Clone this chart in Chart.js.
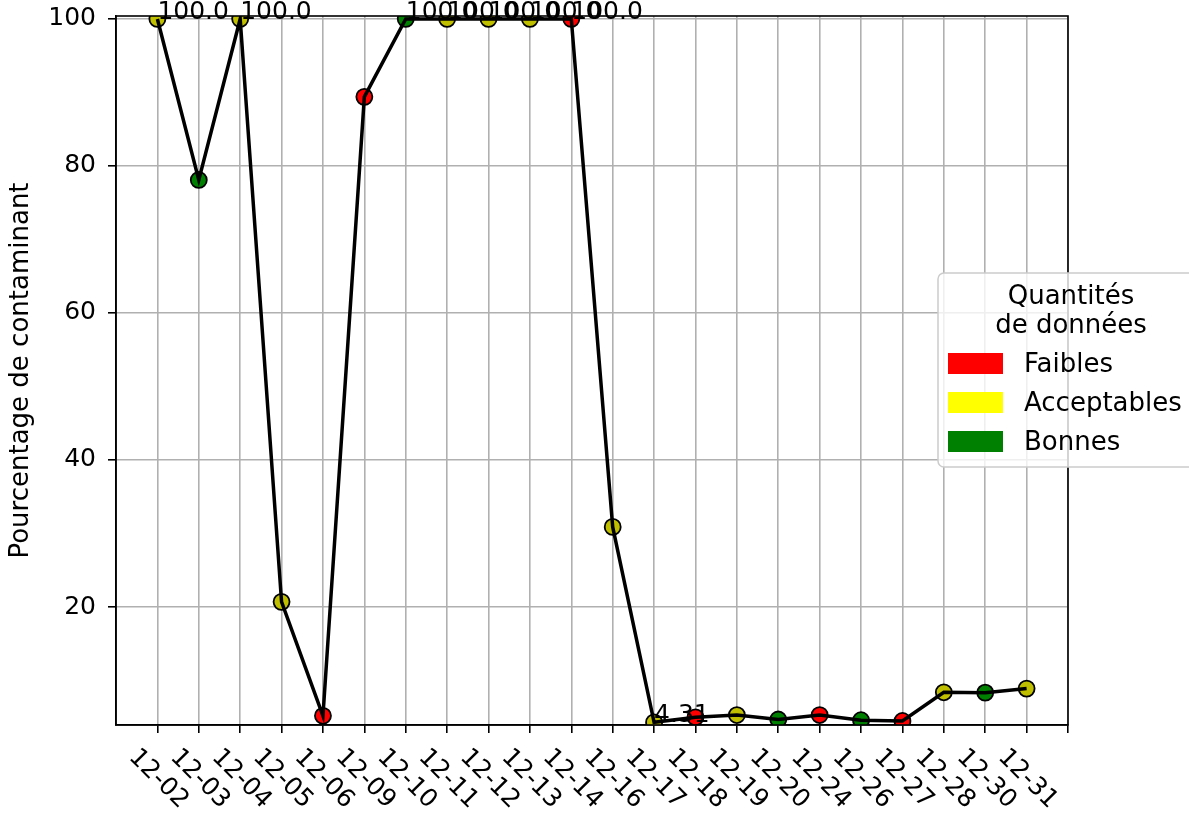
<!DOCTYPE html>
<html>
<head>
<meta charset="utf-8">
<script src="https://cdn.jsdelivr.net/npm/chart.js@4"></script>
<style>
html,body{margin:0;padding:0;background:#fff;}
#wrap{width:1189px;height:816px;}
</style>
</head>
<body>
<div id="wrap"><canvas id="chart" width="1189" height="816"></canvas></div>
<script>
// data
const dates = ["12-02","12-03","12-04","12-05","12-06","12-09","12-10","12-11","12-12","12-13","12-14",
"12-16","12-17","12-18","12-19","12-20","12-24","12-26","12-27","12-28","12-30","12-31"];
const percentages = [100,78.1,100,20.7,5.2,89.4,100,100,100,100,100,
30.9,4.31,5.0,5.3,4.7,5.3,4.6,4.5,8.4,8.35,8.9];
const quality = ["A","B","A","A","F","F","B","A","A","A","F",
"A","A","F","A","B","F","B","F","A","B","A"];
const yTicks = [20,40,60,80,100];

const legendNames = ["Faibles","Acceptables","Bonnes"];
const legendColors = ["#ff0000","#ffff00","#008000"];
const markerColors = {F:"#ff0000",A:"#bfbf00",B:"#008000"};

const FONT = "DejaVu Sans";

let points = dates.map(function(d,i){ return {x:i,y:percentages[i]}; });
let maxV = Math.max.apply(null,percentages);
let minV = Math.min.apply(null,percentages);

function fmt(v){
return Number.isInteger(v) ? v.toFixed(1) : String(v);
}

const extras = {
id:"extras",
afterDraw(chart){
let ctx = chart.ctx;
let a = chart.chartArea;
let xs = chart.scales.x;
ctx.save();
// spines
ctx.strokeStyle="#000";
ctx.lineWidth=1.6;
ctx.strokeRect(a.left,a.top,a.right-a.left,a.bottom-a.top);

// value labels for max / min
ctx.fillStyle="#000";
ctx.font="25px '"+FONT+"'";
ctx.textAlign="left";
ctx.textBaseline="alphabetic";
let meta = chart.getDatasetMeta(1);
percentages.forEach(function(v,i){
if(v===maxV || v===minV){
let p = meta.data[i];
ctx.fillText(fmt(v),p.x,p.y);
}
});

// rotated x labels
ctx.font="25px '"+FONT+"'";
ctx.textAlign="center";
ctx.textBaseline="middle";
dates.forEach(function(d,i){
let x = xs.getPixelForValue(i);
ctx.save();
ctx.translate(x+1,779);
ctx.rotate(Math.PI/4);
ctx.fillText(d,0,0);
ctx.restore();
});

// legend
let lx=938, ly=273, lw=262, lh=194, r=6;
ctx.beginPath();
ctx.moveTo(lx+r,ly);
ctx.lineTo(lx+lw-r,ly);
ctx.arcTo(lx+lw,ly,lx+lw,ly+r,r);
ctx.lineTo(lx+lw,ly+lh-r);
ctx.arcTo(lx+lw,ly+lh,lx+lw-r,ly+lh,r);
ctx.lineTo(lx+r,ly+lh);
ctx.arcTo(lx,ly+lh,lx,ly+lh-r,r);
ctx.lineTo(lx,ly+r);
ctx.arcTo(lx,ly,lx+r,ly,r);
ctx.closePath();
ctx.fillStyle="rgba(255,255,255,0.8)";
ctx.fill();
ctx.strokeStyle="#cccccc";
ctx.lineWidth=1.5;
ctx.stroke();

ctx.fillStyle="#000";
ctx.font="26px '"+FONT+"'";
ctx.textAlign="center";
ctx.fillText("Quantités",1071,297);
ctx.fillText("de données",1071,326);
ctx.textAlign="left";
legendNames.forEach(function(n,i){
let cy = 364 + i*39;
ctx.fillStyle=legendColors[i];
ctx.fillRect(948,cy-11,55,21);
ctx.fillStyle="#000";
ctx.fillText(n,1024,cy+1);
});
ctx.restore();
}
};

new Chart(document.getElementById("chart"),{
type:"line",
data:{
datasets:[{
data:points,
borderColor:"#000",
borderWidth:3.5,
pointRadius:0,
fill:false,
tension:0,
order:0
},{
data:points,
showLine:false,
pointRadius:8,
pointHoverRadius:8,
pointBorderWidth:1.8,
pointBorderColor:"#000",
pointBackgroundColor:quality.map(function(q){ return markerColors[q]; }),
order:1
}]
},
options:{
responsive:false,
animation:false,
events:[],
layout:{autoPadding:false,padding:{top:16,right:121,left:0,bottom:0}},
plugins:{legend:{display:false},tooltip:{enabled:false}},
scales:{
x:{
type:"linear",
min:-1,
max:22,
afterBuildTicks(s){
let t=[];
for(let i=0;i<=22;i++) t.push({value:i});
s.ticks=t;
},
afterFit(s){ s.height=91; s.paddingLeft=0; s.paddingRight=0; },
ticks:{display:false},
grid:{color:"#b0b0b0",lineWidth:1.6,drawTicks:true,tickLength:8,tickColor:"#000",tickWidth:1.6},
border:{color:"#000",width:1.6}
},
y:{
min:3.95,
max:100.4,
afterBuildTicks(s){
s.ticks=yTicks.map(function(v){ return {value:v}; });
},
afterFit(s){ s.width=116; s.paddingTop=0; s.paddingBottom=0; },
ticks:{color:"#000",font:{family:FONT,size:25},padding:12},
grid:{color:"#b0b0b0",lineWidth:1.6,drawTicks:true,tickLength:8,tickColor:"#000",tickWidth:1.6},
border:{color:"#000",width:1.6},
title:{display:true,text:"Pourcentage de contaminant",color:"#000",font:{family:FONT,size:26},padding:{top:6,bottom:0}}
}
}
},
plugins:[extras]
});
</script>
</body>
</html>
